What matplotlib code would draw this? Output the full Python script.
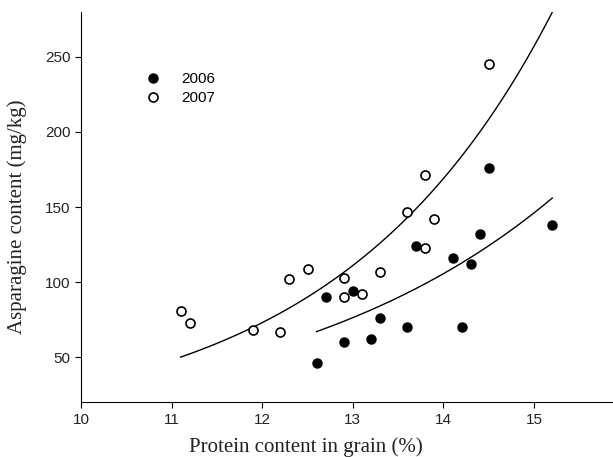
import numpy as np
import matplotlib
matplotlib.use("Agg")
import matplotlib.pyplot as plt

# 2006 (filled)
x_2006 = [12.6, 12.7, 12.9, 13.0, 13.2, 13.3, 13.6, 13.7, 14.1, 14.2, 14.3, 14.4, 14.5, 15.2]
y_2006 = [46, 90, 60, 94, 62, 76, 70, 124, 116, 70, 112, 132, 176, 138]

# 2007 (open)
x_2007 = [11.1, 11.2, 11.9, 12.2, 12.3, 12.5, 12.9, 12.9, 13.1, 13.3, 13.6, 13.8, 13.8, 13.9, 14.5]
y_2007 = [81, 73, 68, 67, 102, 109, 103, 90, 92, 107, 147, 171, 123, 142, 245]

# exponential fit curves y = y0 * exp(b * (x - x0))
fit_2007 = dict(x0=11.1, y0=50, b=0.42, xmax=15.2)
fit_2006 = dict(x0=12.6, y0=67, b=0.325, xmax=15.2)

fig = plt.figure(figsize=(6.13, 4.57), dpi=100)
ax = fig.add_axes([0.132, 0.12, 0.868, 0.854])

for f in (fit_2007, fit_2006):
    xs = np.linspace(f['x0'], f['xmax'], 200)
    ax.plot(xs, f['y0'] * np.exp(f['b'] * (xs - f['x0'])), color='black', lw=1.0)

ax.plot(x_2006, y_2006, 'o', color='black', ms=6.5, label='2006', zorder=3)
ax.plot(x_2007, y_2007, 'o', mfc='white', mec='black', mew=1.2, ms=6.5, label='2007', zorder=3)

ax.set_xlim(10, 15.87)
ax.set_ylim(20, 280)
ax.set_xticks([10, 11, 12, 13, 14, 15])
ax.set_yticks([50, 100, 150, 200, 250])
ax.spines['top'].set_visible(False)
ax.spines['right'].set_visible(False)
ax.tick_params(direction='out', length=4, labelsize=11)
for lab in ax.get_xticklabels() + ax.get_yticklabels():
    lab.set_family('Liberation Sans')
    lab.set_color('#222222')

ax.set_xlabel('Protein content in grain (%)', family='Liberation Serif', fontsize=15, color='#222222')
ax.set_ylabel('Asparagine content (mg/kg)', family='Liberation Serif', fontsize=15, color='#222222')
ax.xaxis.set_label_coords(0.423, -0.09)
ax.yaxis.set_label_coords(-0.101, 0.474)

leg = ax.legend(loc='upper left', bbox_to_anchor=(0.08, 0.88), frameon=False,
                handletextpad=0.9, labelspacing=0.3, prop={'family': 'Liberation Sans', 'size': 11})

fig.savefig('out.png', dpi=100)
